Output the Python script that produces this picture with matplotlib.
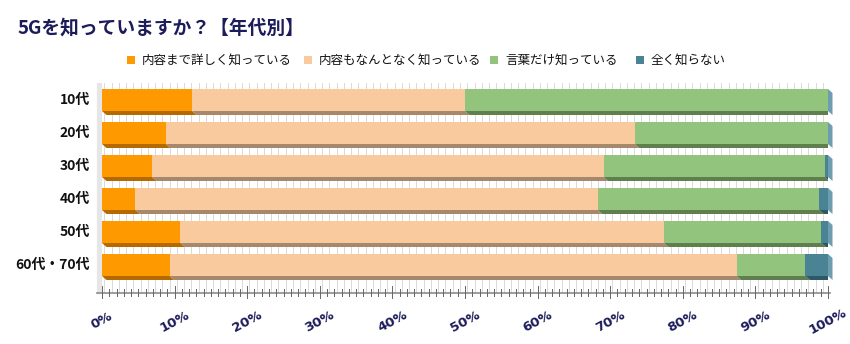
import matplotlib
matplotlib.use("Agg")
import matplotlib.pyplot as plt
from matplotlib.patches import Polygon, Rectangle
import numpy as np

plt.rcParams["font.family"] = ["Noto Sans CJK JP", "DejaVu Sans"]

# Survey shares (%) per age group
groups = ["10代", "20代", "30代", "40代", "50代", "60代・70代"]
series = ["内容まで詳しく知っている", "内容もなんとなく知っている", "言葉だけ知っている", "全く知らない"]
detailed = [12.4, 8.8, 6.9, 4.6, 10.8, 9.3]
vaguely = [37.6, 64.6, 62.2, 63.7, 66.6, 78.1]
word_only = [50.0, 26.6, 30.5, 30.5, 21.7, 9.5]
unknown = [0.0, 0.0, 0.4, 1.2, 0.9, 3.1]
xticks = list(range(0, 101, 10))
xtick_labels = [f"{t}%" for t in xticks]

FACE = ["#FF9900", "#F8CA9D", "#93C47D", "#4A8494"]
BOTTOM = ["#B46A00", "#A8886C", "#5F7F4E", "#2E5866"]
SIDE = "#6E9DB0"
NAVY = "#1C1C5A"

W, H = 850, 344
fig = plt.figure(figsize=(W / 100, H / 100), dpi=100)

# plot area in pixels: x 102..828 (0..100%), y 83..293
x0, x1, y0, y1 = 102, 828, 83, 293
ax = fig.add_axes([x0 / W, 1 - y1 / H, (x1 - x0) / W, (y1 - y0) / H])
row_px = 33.0
ax.set_xlim(0, 100)
ax.set_ylim((y1 - 100) / row_px, (y0 - 100) / row_px)
ax.axis("off")

ylo, yhi = ax.get_ylim()
dx = 4.5 / (x1 - x0) * 100   # depth offset in %
dy = 4.0 / row_px            # depth offset in rows
bar_h = 22.0 / row_px

# left wall and gridlines
ax.add_patch(Polygon([(-0.7, yhi), (0, yhi), (0, ylo), (-0.7, ylo + 0.05)],
                     closed=True, facecolor="#E6E6E6", edgecolor="none",
                     clip_on=False, zorder=0))
for g in range(0, 101):
    ax.plot([g + dx * 0.5, g + dx * 0.5], [yhi, ylo], color="#DADADA", lw=0.7, zorder=1)

data = np.array([detailed, vaguely, word_only, unknown]).T
for i, row in enumerate(data):
    left = 0.0
    top = i - bar_h / 2
    bot = i + bar_h / 2
    for k, v in enumerate(row):
        right = left + v
        if v > 0:
            ax.add_patch(Polygon([(left, bot), (right, bot), (right + dx, bot + dy), (left + dx, bot + dy)],
                                 closed=True, facecolor=BOTTOM[k], edgecolor="none", zorder=3))
            ax.add_patch(Rectangle((left, top), v, bar_h, facecolor=FACE[k],
                                   edgecolor="none", zorder=4))
        left = right
    # right end side face
    ax.add_patch(Polygon([(100, top), (100 + dx, top + dy), (100 + dx, bot + dy), (100, bot)],
                         closed=True, facecolor=SIDE, edgecolor="none", clip_on=False, zorder=3))
    ax.text(-1.7, i, groups[i], ha="right", va="center", fontsize=10,
            fontweight="bold", color="#111111")

# category axis with ticks
ax.plot([-0.7, 100 + dx * 0.5], [ylo, ylo], color="#8C8C8C", lw=1.2, clip_on=False, zorder=5)
for g in range(0, 101):
    ln = 0.2 if g % 10 == 0 else 0.12
    ax.plot([g, g], [ylo - ln, ylo + ln * 0.8], color="#666666", lw=0.7,
            clip_on=False, zorder=5)
for t, lab in zip(xticks, xtick_labels):
    ax.text(t, ylo + 0.85, lab, ha="center", va="center", rotation=28,
            fontsize=9.5, fontweight="bold", color=NAVY,
            family=["Liberation Sans Narrow", "DejaVu Sans"])

fig.text(18 / W, 1 - 28 / H, "5Gを知っていますか？【年代別】", ha="left", va="center",
         fontsize=13.5, fontweight="bold", color=NAVY)

# legend
leg_x = [127, 304, 490, 636]
for lx, name, c in zip(leg_x, series, FACE):
    fig.patches.append(Rectangle((lx / W, 1 - 64 / H), 8 / W, 8 / H, transform=fig.transFigure,
                                 facecolor=c, edgecolor="none"))
    fig.text((lx + 15) / W, 1 - 60 / H, name, ha="left", va="center", fontsize=9,
             color="#111111")

fig.savefig("out.png", dpi=100, facecolor="white")
